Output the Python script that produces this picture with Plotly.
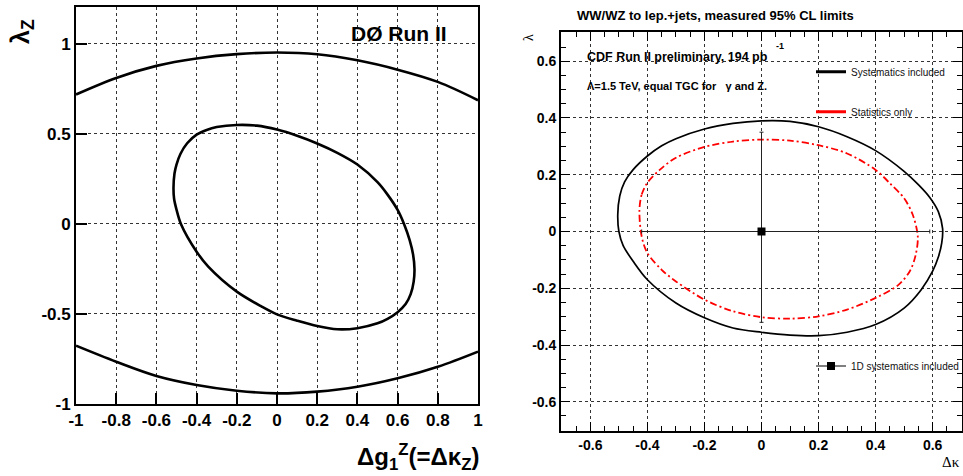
import plotly.graph_objects as go

W, H = 963, 476
SANS = "Liberation Sans, Arial, Helvetica, sans-serif"
SERIF = "Liberation Serif, Times New Roman, serif"

# ---------------- Left panel (D0) ----------------
d0_inner_dg = [-0.515, -0.51, -0.50, -0.48, -0.447, -0.40, -0.35, -0.30, -0.20, -0.10, 0.00,
               0.10, 0.20, 0.30, 0.40, 0.50, 0.55, 0.60, 0.632, 0.66, 0.677, 0.684, 0.680,
               0.665, 0.640, 0.60, 0.55, 0.50, 0.40, 0.30, 0.20, 0.10, 0.00, -0.076, -0.20,
               -0.342, -0.40, -0.478, -0.50, -0.512, -0.515]
d0_inner_lz = [0.20, 0.28, 0.33, 0.39, 0.448, 0.496, 0.522, 0.538, 0.55, 0.546, 0.524,
               0.49, 0.447, 0.395, 0.330, 0.232, 0.163, 0.078, 0.0, -0.09, -0.17, -0.25, -0.32,
               -0.39, -0.445, -0.49, -0.527, -0.552, -0.579, -0.585, -0.567, -0.537, -0.502, -0.459, -0.376,
               -0.237, -0.154, 0.0, 0.08, 0.14, 0.20]
d0_outer_dg = [-1.0, -0.8, -0.6, -0.4, -0.2, 0.0, 0.2, 0.4, 0.6, 0.8, 1.0]
d0_upper_lz = [0.719, 0.811, 0.878, 0.919, 0.943, 0.952, 0.943, 0.909, 0.857, 0.789, 0.687]
d0_lower_lz = [-0.676, -0.765, -0.844, -0.894, -0.926, -0.941, -0.931, -0.904, -0.857, -0.793, -0.709]

left_x_ticks = [-1, -0.8, -0.6, -0.4, -0.2, 0, 0.2, 0.4, 0.6, 0.8, 1]
left_x_labels = ["-1", "-0.8", "-0.6", "-0.4", "-0.2", "0", "0.2", "0.4", "0.6", "0.8", "1"]
left_y_ticks = [-1, -0.5, 0, 0.5, 1]
left_y_labels = ["-1", "-0.5", "0", "0.5", "1"]

# ---------------- Right panel (CDF) ----------------
cdf_syst_dk = [-0.504, -0.497, -0.48, -0.45, -0.40, -0.35, -0.30, -0.20, -0.10, 0.00, 0.10, 0.20, 0.30,
               0.40, 0.50, 0.55, 0.59, 0.620, 0.635, 0.632, 0.620, 0.60, 0.56, 0.50, 0.40, 0.30, 0.20,
               0.10, 0.00, -0.10, -0.20, -0.30, -0.40, -0.45, -0.485, -0.50, -0.504]
cdf_syst_l = [0.059, 0.125, 0.175, 0.218, 0.266, 0.302, 0.327, 0.361, 0.381, 0.390, 0.388, 0.369, 0.334,
              0.285, 0.212, 0.165, 0.120, 0.070, 0.010, -0.040, -0.090, -0.140, -0.205, -0.270, -0.328, -0.355, -0.367,
              -0.365, -0.355, -0.340, -0.304, -0.252, -0.170, -0.105, -0.050, 0.0, 0.059]
cdf_stat_dk = [-0.428, -0.42, -0.40, -0.356, -0.30, -0.20, -0.10, 0.00, 0.10, 0.20, 0.30, 0.40,
               0.45, 0.50, 0.53, 0.548, 0.540, 0.52, 0.48, 0.40, 0.30, 0.20, 0.10, 0.00, -0.10, -0.20,
               -0.30, -0.35, -0.40, -0.42, -0.428]
cdf_stat_l = [0.076, 0.130, 0.172, 0.218, 0.260, 0.298, 0.317, 0.324, 0.320, 0.304, 0.275, 0.217,
              0.170, 0.117, 0.060, -0.018, -0.085, -0.140, -0.188, -0.234, -0.275, -0.299, -0.307, -0.302, -0.281, -0.240,
              -0.176, -0.135, -0.076, -0.018, 0.076]
cdf_1d_dk = [0.0]
cdf_1d_l = [0.0]
cdf_1d_dk_plus = [0.59]
cdf_1d_dk_minus = [0.42]
cdf_1d_l_plus = [0.35]
cdf_1d_l_minus = [0.32]

right_ticks = [-0.6, -0.4, -0.2, 0, 0.2, 0.4, 0.6]
right_labels = ["-0.6", "-0.4", "-0.2", "0", "0.2", "0.4", "0.6"]

fig = go.Figure()

# left panel traces
fig.add_trace(go.Scatter(x=d0_outer_dg, y=d0_upper_lz, mode="lines", line=dict(color="black", width=2.6, shape="spline"),
                         showlegend=False, xaxis="x", yaxis="y"))
fig.add_trace(go.Scatter(x=d0_outer_dg, y=d0_lower_lz, mode="lines", line=dict(color="black", width=2.6, shape="spline"),
                         showlegend=False, xaxis="x", yaxis="y"))
fig.add_trace(go.Scatter(x=d0_inner_dg, y=d0_inner_lz, mode="lines", line=dict(color="black", width=2.6, shape="spline", smoothing=0.9),
                         showlegend=False, xaxis="x", yaxis="y"))

# right panel traces
fig.add_trace(go.Scatter(x=cdf_syst_dk, y=cdf_syst_l, mode="lines", line=dict(color="black", width=1.7, shape="spline", smoothing=0.9),
                         showlegend=False, xaxis="x2", yaxis="y2"))
fig.add_trace(go.Scatter(x=cdf_stat_dk, y=cdf_stat_l, mode="lines",
                         line=dict(color="#ff0000", width=1.8, shape="spline", smoothing=0.9, dash="7px,3px,2px,3px"),
                         showlegend=False, xaxis="x2", yaxis="y2"))
fig.add_trace(go.Scatter(x=cdf_1d_dk, y=cdf_1d_l, mode="lines+markers",
                         marker=dict(symbol="square", size=8, color="black"),
                         line=dict(color="black", width=1),
                         error_x=dict(type="data", symmetric=False, array=cdf_1d_dk_plus, arrayminus=cdf_1d_dk_minus,
                                      color="#222", thickness=1, width=2),
                         error_y=dict(type="data", symmetric=False, array=cdf_1d_l_plus, arrayminus=cdf_1d_l_minus,
                                      color="#222", thickness=1, width=2),
                         name="1D systematics included", legend="legend3", xaxis="x2", yaxis="y2"))
# legend samples
fig.add_trace(go.Scatter(x=[None], y=[None], mode="lines", line=dict(color="black", width=3),
                         name="Systematics included", legend="legend", xaxis="x2", yaxis="y2"))
fig.add_trace(go.Scatter(x=[None], y=[None], mode="lines", line=dict(color="#ff0000", width=3),
                         name="Statistics only", legend="legend2", xaxis="x2", yaxis="y2"))

grid = dict(showgrid=True, gridcolor="#333", griddash="dot", gridwidth=1, zeroline=False, automargin=False,
            showline=True, linecolor="black", linewidth=1.8)

leg_common = dict(bgcolor="rgba(0,0,0,0)", borderwidth=0, xanchor="left", yanchor="middle",
                  font=dict(family=SANS, size=10, color="#111"), tracegroupgap=0)

fig.update_layout(
    width=W, height=H, margin=dict(l=0, r=0, t=0, b=0, autoexpand=False),
    paper_bgcolor="white", plot_bgcolor="white",
    xaxis=dict(domain=[76 / W, 478 / W], range=[-1, 1], tickvals=left_x_ticks, ticktext=left_x_labels,
               ticks="inside", ticklen=11, tickwidth=1.5, tickcolor="black", mirror=True, anchor="y",
               tickfont=dict(family=SANS, size=17, color="black", weight="bold"), **grid),
    yaxis=dict(domain=[72 / H, 469 / H], range=[-1, 1.205], tickvals=left_y_ticks, ticktext=left_y_labels,
               ticks="inside", ticklen=11, tickwidth=1.5, tickcolor="black", mirror=True, anchor="x",
               tickfont=dict(family=SANS, size=17, color="black", weight="bold"), **grid),
    xaxis2=dict(domain=[561 / W, 962 / W], range=[-0.703, 0.703], tickvals=right_ticks, ticktext=right_labels,
                ticks="inside", ticklen=9, tickwidth=1.2, tickcolor="black", mirror="ticks", anchor="y2",
                minor=dict(dtick=0.05, tick0=0, ticks="inside", ticklen=5, tickwidth=1, tickcolor="black", showgrid=False),
                tickfont=dict(family=SANS, size=14, color="black", weight="bold"), **grid),
    yaxis2=dict(domain=[45 / H, 444 / H], range=[-0.703, 0.703], tickvals=right_ticks, ticktext=right_labels,
                ticks="inside", ticklen=9, tickwidth=1.2, tickcolor="black", mirror="ticks", anchor="x2",
                minor=dict(dtick=0.05, tick0=0, ticks="inside", ticklen=5, tickwidth=1, tickcolor="black", showgrid=False),
                tickfont=dict(family=SANS, size=14, color="black", weight="bold"), **grid),
    legend=dict(x=811 / W, y=1 - 71.7 / H, **leg_common),
    legend2=dict(x=811 / W, y=1 - 111.7 / H, **leg_common),
    legend3=dict(x=811 / W, y=1 - 366 / H, **leg_common),
    annotations=[
        dict(text="DØ Run II", xref="paper", yref="paper", x=449 / W, y=1 - 34 / H, xanchor="right", yanchor="middle",
             showarrow=False, font=dict(family=SANS, size=21, color="black", weight="bold")),
        dict(text="λ<sub>Z</sub>", xref="paper", yref="paper", x=22 / W, y=1 - 32 / H, xanchor="center", yanchor="middle",
             textangle=-90, showarrow=False, font=dict(family=SANS, size=25, color="black", weight="bold")),
        dict(text="Δg<sub>1</sub><sup>Z</sup>(=Δκ<sub>Z</sub>)", xref="paper", yref="paper", x=481 / W, y=0,
             xanchor="right", yanchor="bottom", showarrow=False,
             font=dict(family=SANS, size=24, color="black", weight="bold")),
        dict(text="WW/WZ to lep.+jets, measured 95% CL limits", xref="paper", yref="paper", x=575 / W, y=1 - 16 / H,
             xanchor="left", yanchor="middle", showarrow=False,
             font=dict(family=SANS, size=13, color="black", weight="bold")),
        dict(text="CDF Run II preliminary, 194 pb", xref="paper", yref="paper", x=585 / W, y=1 - 57 / H,
             xanchor="left", yanchor="middle", showarrow=False,
             font=dict(family=SANS, size=12.5, color="black", weight="bold")),
        dict(text="-1", xref="paper", yref="paper", x=774 / W, y=1 - 46 / H,
             xanchor="left", yanchor="middle", showarrow=False,
             font=dict(family=SANS, size=9, color="black", weight="bold")),
        dict(text="Λ=1.5 TeV, equal TGC for   γ and Z.", xref="paper", yref="paper", x=585 / W, y=1 - 86 / H,
             xanchor="left", yanchor="middle", showarrow=False,
             font=dict(family=SANS, size=11, color="black", weight="bold")),
        dict(text="λ", xref="paper", yref="paper", x=529 / W, y=1 - 38 / H, xanchor="center", yanchor="middle",
             textangle=-90, showarrow=False, font=dict(family=SERIF, size=14, color="black")),
        dict(text="Δκ", xref="paper", yref="paper", x=962 / W, y=1 - 462 / H, xanchor="right", yanchor="middle",
             showarrow=False, font=dict(family=SERIF, size=15, color="black")),
    ],
)

fig.write_html("out.html", config={"displayModeBar": False},
               post_script="document.body.style.margin='0px';document.body.style.overflow='hidden';")
